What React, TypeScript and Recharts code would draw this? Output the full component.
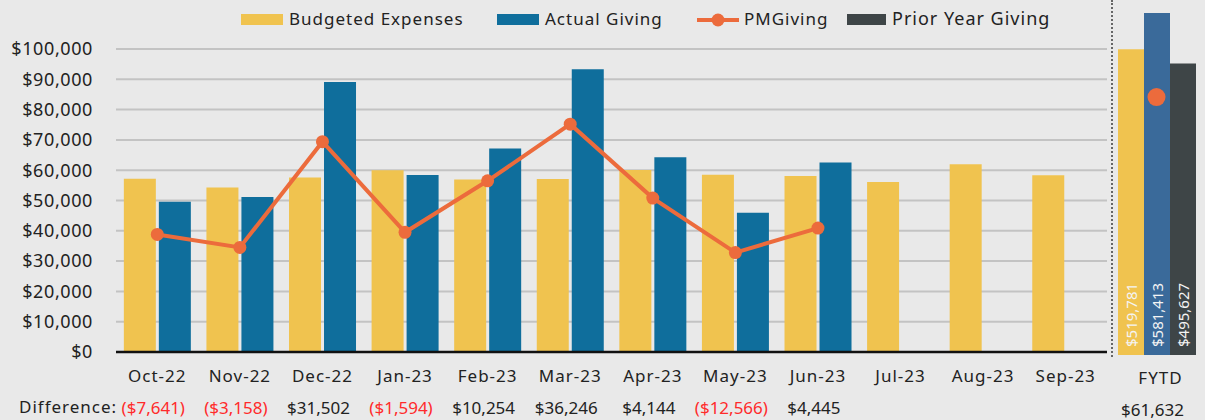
import React from 'react';
import { ComposedChart, Bar, Line, XAxis, YAxis, CartesianGrid, LabelList } from 'recharts';

const months = ['Oct-22', 'Nov-22', 'Dec-22', 'Jan-23', 'Feb-23', 'Mar-23', 'Apr-23', 'May-23', 'Jun-23', 'Jul-23', 'Aug-23', 'Sep-23'];
const budgeted = [57200, 54300, 57600, 60000, 56900, 57100, 60100, 58500, 58081, 56100, 62000, 58300];
const actual: (number | null)[] = [49559, 51142, 89102, 58406, 67154, 93346, 64244, 45934, 62526, null, null, null];
const pmGiving: (number | null)[] = [38800, 34500, 69400, 39500, 56500, 75200, 50800, 32800, 40900, null, null, null];
const yTicks = [0, 10000, 20000, 30000, 40000, 50000, 60000, 70000, 80000, 90000, 100000];
const priorYearTotal = 495627;

const YELLOW = '#F0C34F';
const BLUE = '#0F6E9C';
const BLUE_FYTD = '#3A6A9A';
const ORANGE = '#EC6B3C';
const DARK = '#3E4547';
const RED = '#FF2B2B';
const FONT = '"Noto Sans", sans-serif';

const sum = (arr: (number | null)[]) => arr.reduce<number>((s, v) => s + (v ?? 0), 0);
const money = (n: number) => (n < 0 ? `($${Math.abs(n).toLocaleString('en-US')})` : `$${n.toLocaleString('en-US')}`);

// difference = actual - budget, only for months that have actual giving
const monthData = months.map((m, i) => ({
  month: m,
  budget: budgeted[i],
  actual: actual[i],
  pm: pmGiving[i],
  diff: actual[i] == null ? null : (actual[i] as number) - budgeted[i],
}));

const budgetTotal = sum(budgeted.slice(0, actual.filter((v) => v != null).length));
const actualTotal = sum(actual);
const fytdData = [
  { name: 'FYTD', budget: budgetTotal, actual: actualTotal, prior: priorYearTotal, pm: sum(pmGiving), diff: actualTotal - budgetTotal },
];

const MonthTick = (props: any) => {
  const { x, y, payload } = props;
  const row = monthData.find((d) => d.month === payload.value);
  const diff = row ? row.diff : null;
  return (
    <g>
      <text x={x} y={y + 30} textAnchor="middle" fill="#222" fontSize={17} fontFamily={FONT} letterSpacing={1}>
        {payload.value}
      </text>
      {diff != null && (
        <text x={x - 4} y={y + 62} textAnchor="middle" fill={diff < 0 ? RED : '#222'} fontSize={17} fontFamily={FONT}>
          {money(diff)}
        </text>
      )}
    </g>
  );
};

const FytdTick = (props: any) => {
  const { x, y, payload } = props;
  return (
    <g>
      <text x={x + 4} y={y + 27} textAnchor="middle" fill="#222" fontSize={17} fontFamily={FONT} letterSpacing={1}>
        {payload.value}
      </text>
      <text x={x - 4} y={y + 59} textAnchor="middle" fill="#222" fontSize={17} fontFamily={FONT}>
        {money(fytdData[0].diff)}
      </text>
    </g>
  );
};

const VerticalLabel = (props: any) => {
  const { x, y, width, height, value } = props;
  const cx = x + width / 2;
  const by = y + height - 8;
  return (
    <text
      x={cx}
      y={by}
      transform={`rotate(-90 ${cx} ${by})`}
      textAnchor="start"
      dominantBaseline="central"
      fill="#f4f4f4"
      fontSize={15}
      fontFamily={FONT}
    >
      {money(value)}
    </text>
  );
};

const legendText: React.CSSProperties = {
  position: 'absolute',
  top: 8,
  fontFamily: FONT,
  fontSize: 17,
  letterSpacing: 1,
  color: '#222',
  lineHeight: '22px',
  whiteSpace: 'nowrap',
};

const swatch = (left: number, color: string): React.CSSProperties => ({
  position: 'absolute',
  left,
  top: 14,
  width: 42,
  height: 11,
  background: color,
});

export default function App() {
  return (
    <div style={{ position: 'absolute', left: 0, top: 0, width: 1205, height: 420, background: '#E9E9E9', overflow: 'hidden' }}>
      <div style={{ position: 'absolute', left: 0, top: 0 }}>
        <ComposedChart
          width={1110}
          height={420}
          data={monthData}
          margin={{ top: 49, right: 3, left: 0, bottom: 0 }}
          barCategoryGap="9.5%"
          barGap={3}
        >
          <CartesianGrid vertical={false} stroke="#C3C3C3" strokeWidth={2} />
          <XAxis
            dataKey="month"
            height={68}
            interval={0}
            tickLine={false}
            tickSize={0}
            tickMargin={0}
            axisLine={{ stroke: '#111', strokeWidth: 2.5 }}
            tick={<MonthTick />}
          />
          <YAxis
            width={116}
            domain={[0, 100000]}
            ticks={yTicks}
            interval={0}
            axisLine={false}
            tickLine={false}
            tickSize={0}
            tickMargin={23}
            tickFormatter={(v: number) => `$${v.toLocaleString('en-US')}`}
            tick={{ fill: '#222', fontSize: 18, fontFamily: FONT, letterSpacing: 0.6 }}
          />
          <Bar dataKey="budget" fill={YELLOW} isAnimationActive={false} />
          <Bar dataKey="actual" fill={BLUE} isAnimationActive={false} />
          <Line
            dataKey="pm"
            type="linear"
            stroke={ORANGE}
            strokeWidth={4}
            dot={{ r: 6.5, fill: ORANGE, stroke: 'none' }}
            activeDot={false}
            isAnimationActive={false}
          />
        </ComposedChart>
      </div>

      <div style={{ position: 'absolute', left: 1111, top: 0, height: 357, borderLeft: '2px dotted #666' }} />

      <div style={{ position: 'absolute', left: 1112, top: 0 }}>
        <ComposedChart
          width={93}
          height={420}
          data={fytdData}
          margin={{ top: 13, right: 10, left: 6, bottom: 0 }}
          barCategoryGap={0}
          barGap={0}
        >
          <XAxis dataKey="name" height={65} tickLine={false} tickSize={0} axisLine={false} tick={<FytdTick />} />
          <YAxis hide domain={[0, Math.max(budgetTotal, actualTotal, priorYearTotal)]} />
          <Bar dataKey="budget" fill={YELLOW} isAnimationActive={false}>
            <LabelList dataKey="budget" content={<VerticalLabel />} />
          </Bar>
          <Bar dataKey="actual" fill={BLUE_FYTD} isAnimationActive={false}>
            <LabelList dataKey="actual" content={<VerticalLabel />} />
          </Bar>
          <Bar dataKey="prior" fill={DARK} isAnimationActive={false}>
            <LabelList dataKey="prior" content={<VerticalLabel />} />
          </Bar>
          <Line dataKey="pm" stroke={ORANGE} dot={{ r: 9, fill: ORANGE, stroke: 'none' }} activeDot={false} isAnimationActive={false} />
        </ComposedChart>
      </div>

      {/* legend */}
      <div style={swatch(241, YELLOW)} />
      <div style={{ ...legendText, left: 289 }}>Budgeted Expenses</div>
      <div style={swatch(497, BLUE)} />
      <div style={{ ...legendText, left: 545 }}>Actual Giving</div>
      <svg style={{ position: 'absolute', left: 697, top: 11 }} width={42} height={18}>
        <line x1={0} y1={9} x2={42} y2={9} stroke={ORANGE} strokeWidth={4} />
        <circle cx={21} cy={9} r={6.5} fill={ORANGE} />
      </svg>
      <div style={{ ...legendText, left: 744 }}>PMGiving</div>
      <div style={{ ...swatch(847, DARK), width: 39 }} />
      <div style={{ ...legendText, left: 892, fontSize: 18, top: 7 }}>Prior Year Giving</div>

      <div style={{ position: 'absolute', left: 19, top: 396, fontFamily: FONT, fontSize: 17, letterSpacing: 1, color: '#222', lineHeight: '22px' }}>
        Difference:
      </div>
    </div>
  );
}
